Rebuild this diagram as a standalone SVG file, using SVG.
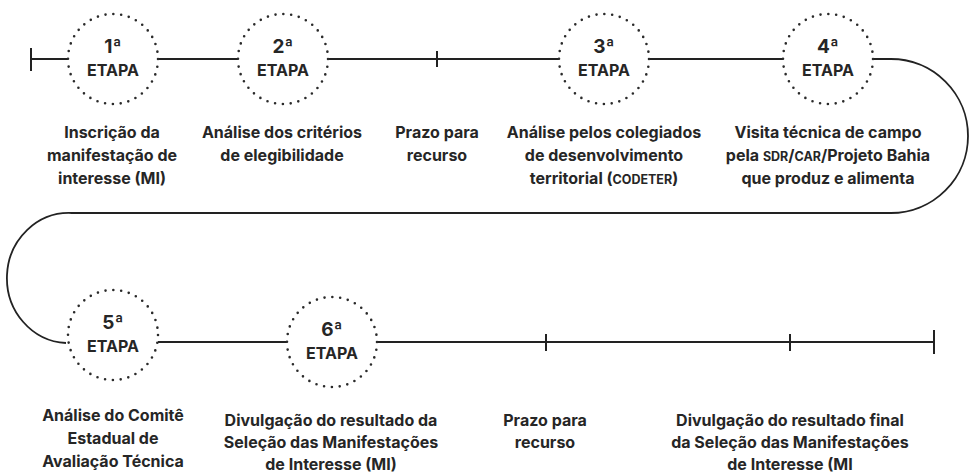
<svg xmlns="http://www.w3.org/2000/svg" width="970" height="475" viewBox="0 0 970 475">
<style>
.bg{fill:#ffffff}
.ln{fill:none;stroke:#222;stroke-width:1.8}
.tk{fill:none;stroke:#222;stroke-width:2}
.dot{fill:none;stroke:#2a2a2a;stroke-width:2.6;stroke-linecap:round;stroke-dasharray:0 7.854}
.num{font-family:Inter,"Open Sans",sans-serif;font-weight:700;font-size:19px;fill:#262626;text-anchor:middle}
.et{font-family:Inter,"Open Sans",sans-serif;font-weight:700;font-size:16px;fill:#262626;text-anchor:middle}
.lb{font-family:Inter,"Open Sans",sans-serif;font-weight:700;font-size:16px;fill:#262626;text-anchor:middle}
.sc{font-size:12.5px;font-weight:700}
</style>
<rect class="bg" x="0" y="0" width="970" height="475"/>
<g id="connectors">
<path class="ln" d="M31 59 H68 M158 59 H238 M328 59 H559 M649 59 H783"/>
<path class="tk" d="M31 48 V71 M437 51 V67"/>
<path class="ln" d="M874 59 H891 A77 77 0 0 1 891 213 H72 A62 65 0 0 0 66 343"/>
<path class="ln" d="M158 342 H287 M377 342 H934"/>
<path class="tk" d="M546 334 V351 M790 334 V351 M934 330 V354"/>
</g>
<g id="etapa1">
<circle class="dot" cx="113" cy="59" r="45"/>
<text class="num" x="113" y="53">1ª</text>
<text class="et" x="113" y="76">ETAPA</text>
<text class="lb" x="112" y="138">Inscrição da</text>
<text class="lb" x="112" y="161">manifestação de</text>
<text class="lb" x="112" y="184">interesse (MI)</text>
</g>
<g id="etapa2">
<circle class="dot" cx="283" cy="59" r="45"/>
<text class="num" x="283" y="53">2ª</text>
<text class="et" x="283" y="76">ETAPA</text>
<text class="lb" x="282" y="138">Análise dos critérios</text>
<text class="lb" x="282" y="161">de elegibilidade</text>
</g>
<g id="prazo1">
<text class="lb" x="437" y="138">Prazo para</text>
<text class="lb" x="437" y="161">recurso</text>
</g>
<g id="etapa3">
<circle class="dot" cx="604" cy="59" r="45"/>
<text class="num" x="604" y="53">3ª</text>
<text class="et" x="604" y="76">ETAPA</text>
<text class="lb" x="604" y="138">Análise pelos colegiados</text>
<text class="lb" x="604" y="161">de desenvolvimento</text>
<text class="lb" x="604" y="184">territorial (<tspan class="sc">CODETER</tspan>)</text>
</g>
<g id="etapa4">
<circle class="dot" cx="828" cy="59" r="45"/>
<text class="num" x="828" y="53">4ª</text>
<text class="et" x="828" y="76">ETAPA</text>
<text class="lb" x="828" y="138">Visita técnica de campo</text>
<text class="lb" x="828" y="161">pela <tspan class="sc">SDR</tspan>/<tspan class="sc">CAR</tspan>/Projeto Bahia</text>
<text class="lb" x="828" y="184">que produz e alimenta</text>
</g>
<g id="etapa5">
<circle class="dot" cx="113" cy="335" r="45"/>
<text class="num" x="113" y="329">5ª</text>
<text class="et" x="113" y="352">ETAPA</text>
<text class="lb" x="113" y="421">Análise do Comitê</text>
<text class="lb" x="113" y="444">Estadual de</text>
<text class="lb" x="113" y="467">Avaliação Técnica</text>
</g>
<g id="etapa6">
<circle class="dot" cx="332" cy="342" r="45"/>
<text class="num" x="332" y="336">6ª</text>
<text class="et" x="332" y="359">ETAPA</text>
<text class="lb" x="331" y="426">Divulgação do resultado da</text>
<text class="lb" x="331" y="448">Seleção das Manifestações</text>
<text class="lb" x="331" y="470">de Interesse (MI)</text>
</g>
<g id="prazo2">
<text class="lb" x="545" y="426">Prazo para</text>
<text class="lb" x="545" y="448">recurso</text>
</g>
<g id="final">
<text class="lb" x="790" y="426">Divulgação do resultado final</text>
<text class="lb" x="790" y="448">da Seleção das Manifestações</text>
<text class="lb" x="790" y="470">de Interesse (MI</text>
</g>
</svg>
